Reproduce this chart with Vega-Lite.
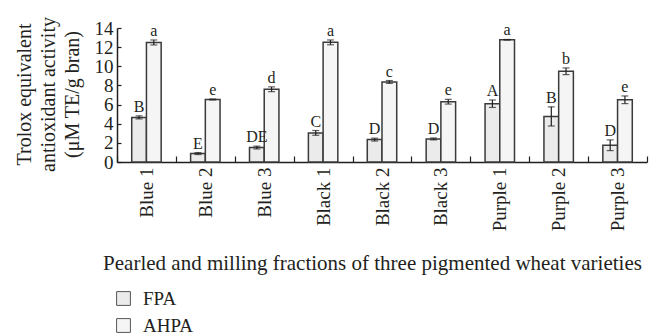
{
  "$schema": "https://vega.github.io/schema/vega-lite/v6.json",
  "autosize": "none",
  "width": 530,
  "height": 134,
  "padding": {"left": 117, "top": 28, "right": 2, "bottom": 172},
  "config": {
    "font": "Liberation Serif",
    "view": {"stroke": null},
    "axis": {"labelColor": "#231f20", "titleColor": "#231f20", "domainColor": "#231f20", "tickColor": "#231f20", "grid": false}
  },
  "resolve": {"axis": {"y": "independent"}},
  "data": {
    "values": [
      {"fraction": "Blue 1", "method": "FPA", "value": 4.66, "lo": 4.5, "hi": 4.82, "letter": "B"},
      {"fraction": "Blue 1", "method": "AHPA", "value": 12.49, "lo": 12.23, "hi": 12.75, "letter": "a"},
      {"fraction": "Blue 2", "method": "FPA", "value": 0.88, "lo": 0.78, "hi": 0.98, "letter": "E"},
      {"fraction": "Blue 2", "method": "AHPA", "value": 6.53, "lo": 6.48, "hi": 6.58, "letter": "e"},
      {"fraction": "Blue 3", "method": "FPA", "value": 1.51, "lo": 1.36, "hi": 1.66, "letter": "DE"},
      {"fraction": "Blue 3", "method": "AHPA", "value": 7.6, "lo": 7.35, "hi": 7.85, "letter": "d"},
      {"fraction": "Black 1", "method": "FPA", "value": 3.04, "lo": 2.79, "hi": 3.29, "letter": "C"},
      {"fraction": "Black 1", "method": "AHPA", "value": 12.5, "lo": 12.25, "hi": 12.75, "letter": "a"},
      {"fraction": "Black 2", "method": "FPA", "value": 2.34, "lo": 2.19, "hi": 2.49, "letter": "D"},
      {"fraction": "Black 2", "method": "AHPA", "value": 8.36, "lo": 8.21, "hi": 8.51, "letter": "c"},
      {"fraction": "Black 3", "method": "FPA", "value": 2.41, "lo": 2.31, "hi": 2.51, "letter": "D"},
      {"fraction": "Black 3", "method": "AHPA", "value": 6.3, "lo": 6.05, "hi": 6.55, "letter": "e"},
      {"fraction": "Purple 1", "method": "FPA", "value": 6.09, "lo": 5.7, "hi": 6.48, "letter": "A"},
      {"fraction": "Purple 1", "method": "AHPA", "value": 12.77, "lo": 12.74, "hi": 12.8, "letter": "a"},
      {"fraction": "Purple 2", "method": "FPA", "value": 4.76, "lo": 3.76, "hi": 5.76, "letter": "B"},
      {"fraction": "Purple 2", "method": "AHPA", "value": 9.48, "lo": 9.13, "hi": 9.83, "letter": "b"},
      {"fraction": "Purple 3", "method": "FPA", "value": 1.75, "lo": 1.19, "hi": 2.31, "letter": "D"},
      {"fraction": "Purple 3", "method": "AHPA", "value": 6.5, "lo": 6.1, "hi": 6.9, "letter": "e"}
    ]
  },
  "encoding": {
    "x": {
      "field": "fraction",
      "type": "nominal",
      "sort": ["Blue 1", "Blue 2", "Blue 3", "Black 1", "Black 2", "Black 3", "Purple 1", "Purple 2", "Purple 3"],
      "scale": {"paddingInner": 0, "paddingOuter": 0},
      "axis": {
        "title": "Pearled and milling fractions of three pigmented wheat varieties",
        "titleFontSize": 21,
        "titleFontWeight": "normal",
        "titleX": 255,
        "titleY": 107,
        "titleAlign": "center",
        "titleBaseline": "alphabetic",
        "labelAngle": -90,
        "labelAlign": "right",
        "labelBaseline": "middle",
        "labelFontSize": 19,
        "labelPadding": 11,
        "tickBand": "extent",
        "tickSize": -6,
        "tickWidth": 1.2,
        "domainWidth": 1.5
      }
    },
    "xOffset": {
      "field": "method",
      "type": "nominal",
      "sort": ["FPA", "AHPA"],
      "scale": {"paddingInner": 0, "paddingOuter": 1.27}
    }
  },
  "layer": [
    {
      "mark": {"type": "bar", "stroke": "#3a3a3a", "strokeWidth": 1.5},
      "encoding": {
        "y": {
          "field": "value",
          "type": "quantitative",
          "scale": {"domain": [0, 14], "nice": false},
          "axis": {
            "values": [0, 2, 4, 6, 8, 10, 12, 14],
            "labelOverlap": false,
            "labelFontSize": 19,
            "labelPadding": 8,
            "tickSize": -4,
            "tickWidth": 1.2,
            "domainWidth": 1.5,
            "title": ["Trolox equivalent", "antioxidant activity", "(μM TE/g bran)"],
            "titleFontSize": 20,
            "titleFontWeight": "normal",
            "titleLineHeight": 24,
            "titleAngle": -90,
            "titleAlign": "center",
            "titleBaseline": "top",
            "titleX": -103,
            "titleY": 66
          }
        },
        "fill": {
          "field": "method",
          "type": "nominal",
          "sort": ["FPA", "AHPA"],
          "scale": {"domain": ["FPA", "AHPA"], "range": ["#ebebeb", "#f5f5f5"]},
          "legend": {
            "title": null,
            "orient": "none",
            "legendX": -3,
            "legendY": 261,
            "symbolType": "square",
            "symbolSize": 190,
            "symbolStrokeColor": "#555555",
            "symbolStrokeWidth": 1,
            "labelFontSize": 19,
            "labelColor": "#231f20",
            "labelOffset": 10,
            "rowPadding": 7
          }
        }
      }
    },
    {
      "mark": {"type": "rule", "color": "#231f20", "strokeWidth": 1.2},
      "encoding": {
        "y": {"field": "lo", "type": "quantitative", "axis": null},
        "y2": {"field": "hi"}
      }
    },
    {
      "mark": {"type": "tick", "color": "#231f20", "size": 7, "thickness": 1.2, "orient": "horizontal"},
      "encoding": {"y": {"field": "lo", "type": "quantitative", "axis": null}}
    },
    {
      "mark": {"type": "tick", "color": "#231f20", "size": 7, "thickness": 1.2, "orient": "horizontal"},
      "encoding": {"y": {"field": "hi", "type": "quantitative", "axis": null}}
    },
    {
      "mark": {"type": "text", "fontSize": 16, "color": "#231f20", "baseline": "alphabetic", "dy": -4},
      "encoding": {
        "y": {"field": "hi", "type": "quantitative", "axis": null},
        "text": {"field": "letter"}
      }
    }
  ]
}
